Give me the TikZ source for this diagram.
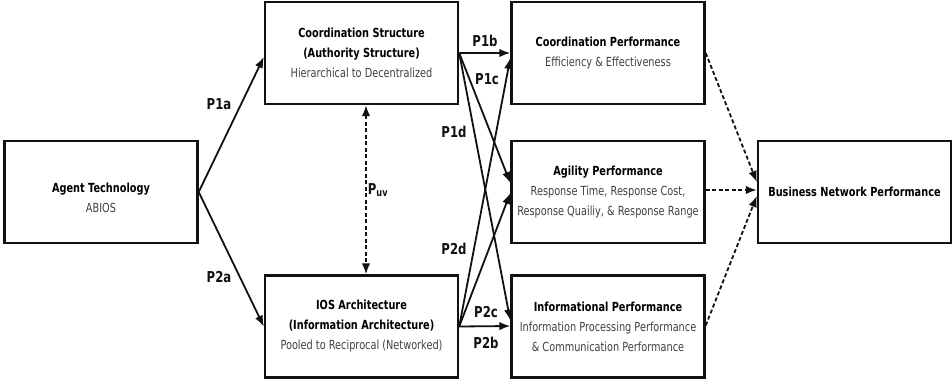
\documentclass[tikz,border=0pt]{standalone}
\usepackage{fontspec}
\setmainfont{DejaVu Sans}[FakeStretch=0.78]
\usetikzlibrary{arrows.meta}
\definecolor{subtext}{HTML}{404040}
\definecolor{ink}{HTML}{111111}

\tikzset{
  box/.style={draw=ink, line width=2.4pt, minimum width=193pt, minimum height=102pt,
    inner sep=0pt, align=center, font=\fontsize{12.5}{20}\selectfont},
  txt/.style={inner sep=0pt, align=center, font=\fontsize{12.5}{20}\selectfont},
  tip/.style={-{Latex[length=11pt,width=8.5pt]}},
  link/.style={draw=ink, line width=1.8pt, tip},
  dlink/.style={link, dash pattern=on 4pt off 2.5pt},
  plabel/.style={inner sep=0pt, text=ink, font=\fontsize{15}{16}\selectfont\bfseries},
}
\newcommand{\hd}[1]{\textbf{#1}}
\newcommand{\sd}[1]{{\color{subtext}#1}}

\begin{document}
\begin{tikzpicture}[x=1pt, y=-1pt]
  \fill[white] (0,0) rectangle (952,382);
  \useasboundingbox (0,0) rectangle (952,382);

  % boxes
  \node[box] (agent) at (101,192) {};
  \node[txt] (agenttext) at (101,198) {\hd{Agent Technology}\\ \sd{ABIOS}};
  \node[box] (cs) at (361.5,53)
    {\hd{Coordination Structure}\\ \hd{(Authority Structure)}\\ \sd{Hierarchical to Decentralized}};
  \node[box] (ios) at (361.5,326.5)
    {\hd{IOS Architecture}\\ \hd{(Information Architecture)}\\ \sd{Pooled to Reciprocal (Networked)}};
  \node[box] (cp) at (608,53)
    {\hd{Coordination Performance}\\ \sd{Efficiency \& Effectiveness}};
  \node[box] (ap) at (608,192)
    {\hd{Agility Performance}\\ \sd{Response Time, Response Cost,}\\ \sd{Response Quailiy, \& Response Range}};
  \node[box] (ip) at (608,326.5)
    {\hd{Informational Performance}\\ \sd{Information Processing Performance}\\ \sd{\& Communication Performance}};
  \node[box] (bn) at (854.5,192) {\hd{Business Network Performance}};

  % agent technology to the two structures
  \draw[link] (agent.east) -- ([yshift=-4pt]cs.west);
  \draw[link] (agent.east) -- (ios.west);

  % mutual relation of the structures
  \draw[draw=ink, line width=1.8pt, dash pattern=on 4pt off 2.5pt,
        {Latex[length=11pt,width=8.5pt]}-{Latex[length=11pt,width=8.5pt]}]
    ([xshift=4.5pt]cs.south) -- ([xshift=4.5pt]ios.north);

  % structures to performances
  \draw[link] (cs.east) -- (cp.west);
  \draw[link] (cs.east) -- ([yshift=9pt]ap.west);
  \draw[link] (cs.east) -- ([yshift=6pt]ip.west);
  \draw[link] (ios.east) -- ([yshift=0.5pt]ip.west);
  \draw[link] (ios.east) -- ([yshift=-1pt]ap.west);
  \draw[link] (ios.east) -- ([yshift=-5pt]cp.west);

  % performances to business network performance
  \draw[dlink] (cp.east) -- ([yshift=10pt]bn.west);
  \draw[dlink] ([yshift=2pt]ap.east) -- ([yshift=2pt]bn.west);
  \draw[dlink] ([yshift=1pt]ip.east) -- ([yshift=-4pt]bn.west);

  % proposition labels
  \node[plabel] (l1a) at (219,104) {P1a};
  \node[plabel] (l2a) at (219,277) {P2a};
  \node[plabel] (l1b) at (485,41) {P1b};
  \node[plabel] (l1c) at (487,79) {P1c};
  \node[plabel] (l1d) at (454,132) {P1d};
  \node[plabel] (l2d) at (454,249) {P2d};
  \node[plabel] (l2c) at (486,312) {P2c};
  \node[plabel] (l2b) at (486,343) {P2b};
  \node[plabel] (luv) at (378,190) {P\textsubscript{uv}};
\end{tikzpicture}
\end{document}
